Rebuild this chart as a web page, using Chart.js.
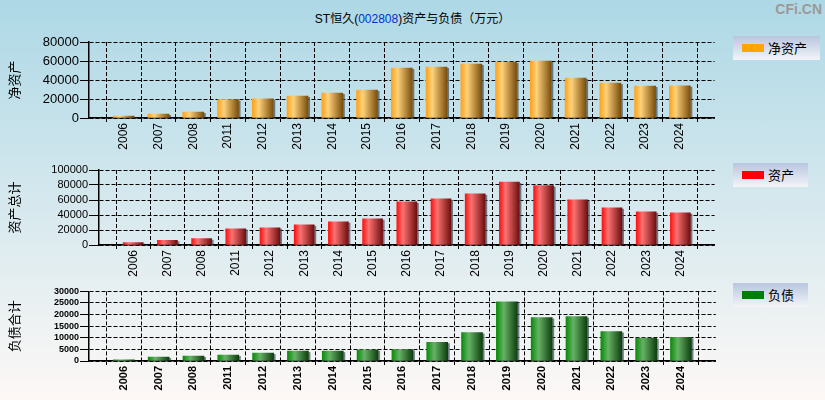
<!DOCTYPE html>
<html>
<head>
<meta charset="utf-8">
<script src="https://cdn.jsdelivr.net/npm/chart.js@4.4.0/dist/chart.umd.min.js"></script>
<style>
  body { margin: 0; width: 825px; height: 400px; overflow: hidden; position: relative;
         background: linear-gradient(#add8e6, #fdf8f6); font-family: "Liberation Sans", "Noto Sans CJK SC", sans-serif; }
  .box { position: absolute; left: 0; width: 730px; }
  .title { position: absolute; top: 9px; left: 0; width: 825px; text-align: center; font-size: 12px; color: #000; }
  .title span { color: #0033cc; }
  .logo { position: absolute; top: 1px; right: 3px; font: bold 14px "Liberation Sans", sans-serif; color: #9a9a9a; }
  .legend { position: absolute; left: 733px; height: 24px; background: linear-gradient(#b8c6df, #f3f4f8);
            font-size: 13px; line-height: 24px; font-family: "Noto Sans CJK SC", sans-serif; }
  .legend i { position: absolute; left: 9px; top: 8px; width: 22px; height: 8px; }
  .legend b { position: absolute; left: 35px; top: 0; font-weight: normal; }
</style>
</head>
<body>
<div class="title">ST恒久(<span>002808</span>)资产与负债（万元）</div>
<div class="logo">CFi.CN</div>

<div class="box" style="top:30px;height:130px"><canvas id="firstChart" width="730" height="130"></canvas></div>
<div class="box" style="top:160px;height:125px"><canvas id="secondChart" width="730" height="125"></canvas></div>
<div class="box" style="top:285px;height:115px"><canvas id="thirdChart" width="730" height="115"></canvas></div>

<div class="legend" style="top:36px;width:87px"><i style="background:#ffa500"></i><b>净资产</b></div>
<div class="legend" style="top:163px;width:75px"><i style="background:#ff0000"></i><b>资产</b></div>
<div class="legend" style="top:283px;width:75px"><i style="background:#008000"></i><b>负债</b></div>

<script>
// datos (万元)
const years = ['2006', '2007', '2008', '2011', '2012', '2013', '2014', '2015', '2016',
               '2017', '2018', '2019', '2020', '2021', '2022', '2023', '2024'];
const netAssets = [2000, 4200, 6300, 19300, 20300, 23200, 26300, 29500, 52600,
                   53700, 56800, 58900, 60000, 42100, 36800, 33700, 33900];
const totalAssets = [3100, 6200, 8400, 21700, 23000, 27000, 31000, 34900, 57500,
                     61400, 68100, 84000, 79100, 60100, 49500, 44200, 42900];
const totalDebt = [500, 1700, 2100, 2550, 3400, 4250, 4250, 4800, 4950,
                   8070, 12300, 25500, 18700, 19100, 12700, 9900, 10200];

Chart.defaults.font.family = '"Liberation Sans", "Noto Sans CJK SC", sans-serif';
Chart.defaults.color = '#000';

// una categoria vacia a cada lado, como en el original
const labels = [''].concat(years, ['']);
const pad = (arr) => [null].concat(arr, [null]);

// sombra gris a la derecha de cada barra
const barShadow = {
    id: 'barShadow',
    beforeDatasetsDraw(chart) {
        const ctx = chart.ctx;
        chart.getDatasetMeta(0).data.forEach((el, i) => {
            if (chart.data.datasets[0].data[i] == null) return;
            ctx.save();
            ctx.fillStyle = 'rgba(70,85,100,0.75)';
            ctx.fillRect(el.x + el.width / 2, el.y + 1, 2, el.base - el.y - 1);
            ctx.restore();
        });
    }
};

const cargarChart = (canvas, cfg) => {
    const gradiente = (c) => {
        const sx = c.chart.scales && c.chart.scales.x;
        if (!sx || c.dataIndex === undefined) return cfg.stops[0][1];
        const x = sx.getPixelForValue(c.dataIndex);
        if (!isFinite(x)) return cfg.stops[0][1];
        const g = c.chart.ctx.createLinearGradient(x - cfg.barW / 2, 0, x + cfg.barW / 2, 0);
        cfg.stops.forEach((s) => g.addColorStop(s[0], s[1]));
        return g;
    };
    return new Chart(canvas, {
        type: 'bar',
        data: {
            labels: labels,
            datasets: [{
                data: pad(cfg.values),
                backgroundColor: gradiente,
                borderWidth: 0,
                barThickness: cfg.barW,
            }]
        },
        plugins: [barShadow],
        options: {
            responsive: false,
            animation: false,
            layout: { padding: { top: cfg.padTop, right: 14, bottom: 0, left: 0 } },
            plugins: { legend: { display: false }, tooltip: { enabled: false } },
            scales: {
                x: {
                    offset: false,
                    grid: { color: '#000', lineWidth: 1, tickLength: 4 },
                    border: { color: '#000', width: 1.5, dash: [4, 2] },
                    ticks: { font: cfg.xFont, minRotation: 90, maxRotation: 90, autoSkip: false, padding: 1 },
                    afterFit: (s) => { s.height = cfg.xH; }
                },
                y: {
                    min: 0,
                    max: cfg.max,
                    ticks: { stepSize: cfg.step, font: cfg.yFont, padding: 1, autoSkip: false, callback: (v) => String(v) },
                    grid: { color: '#000', lineWidth: 1, tickLength: cfg.tickLen },
                    border: { color: '#000', width: 1.5, dash: [4, 2] },
                    title: { display: true, text: cfg.title, font: { size: 13, family: '"Noto Sans CJK SC", sans-serif' }, padding: { top: 6, bottom: 0 } },
                    afterFit: (s) => { s.width = cfg.left; }
                }
            }
        }
    });
};

chart1 = cargarChart(document.getElementById('firstChart'), {
    values: netAssets, title: '净资产', max: 80000, step: 20000,
    left: 89, padTop: 12, xH: 42, barW: 21, tickLen: 9,
    xFont: { size: 12 }, yFont: { size: 13 },
    stops: [[0, '#ffa21a'], [0.3, '#ffd27c'], [1, '#7a4e0a']]
});

chart2 = cargarChart(document.getElementById('secondChart'), {
    values: totalAssets, title: '资产总计', max: 100000, step: 20000,
    left: 99, padTop: 10, xH: 40, barW: 20, tickLen: 10,
    xFont: { size: 12 }, yFont: { size: 11 },
    stops: [[0, '#ff1010'], [0.3, '#ff7272'], [1, '#6e0e0e']]
});

chart3 = cargarChart(document.getElementById('thirdChart'), {
    values: totalDebt, title: '负债合计', max: 30000, step: 5000,
    left: 89, padTop: 5, xH: 39, barW: 21, tickLen: 9,
    xFont: { size: 11, weight: 'bold' }, yFont: { size: 9, weight: 'bold' },
    stops: [[0, '#0a8a0a'], [0.35, '#66b266'], [1, '#0e3e0e']]
});
</script>
</body>
</html>
